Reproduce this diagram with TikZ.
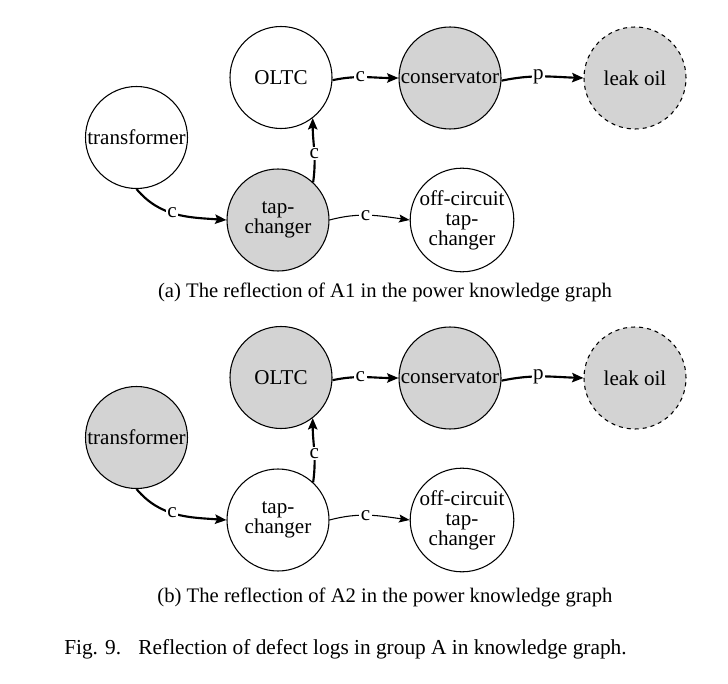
\documentclass[tikz,border=0pt]{standalone}
\usepackage{fontspec}
\setmainfont{Liberation Serif}
\usetikzlibrary{arrows.meta}
\definecolor{ngray}{HTML}{D3D3D3}
\tikzset{
  ent/.style={circle, draw, line width=0.8pt, minimum size=76.5pt, inner sep=0pt, align=center, font=\fontsize{15.8}{15}\selectfont},
  gent/.style={ent, fill=ngray},
  dent/.style={gent, dashed},
  rel/.style={line width=1.6pt, -{Stealth[length=8.5pt,width=7pt,inset=1.5pt]}},
  trel/.style={line width=0.8pt, -{Stealth[length=8pt,width=6pt,inset=1.5pt]}},
  lbl/.style={fill=white, inner sep=1.2pt, font=\fontsize{15.8}{15}\selectfont},
  captext/.style={font=\fontsize{15.5}{15}\selectfont, inner sep=0pt}
}
\begin{document}
\begin{tikzpicture}[x=0.75pt, y=-0.75pt]
\useasboundingbox (0,0) rectangle (728,684);
% (a)
\node[ent]  (trA)   at (136.5,137.5) {transformer};
\node[ent]  (oltcA) at (281,77.5) {OLTC};
\node[gent] (consA) at (450,78) {conservator};
\node[dent] (leakA) at (635,78) {leak oil};
\node[gent] (tapA)  at (278,220) {tap-\\changer};
\node[ent]  (offA)  at (462,220) {off-circuit\\tap-\\changer};
\draw[rel] (trA.-90) to[out=-50,in=176] node[lbl,pos=0.45]{c} (tapA.west);
\draw[rel] (tapA.47) to[out=82,in=-90] node[lbl,pos=0.45]{c} (oltcA.-52);
\draw[trel] (tapA.east) to[out=15,in=172] node[lbl,pos=0.45]{c} (offA.west);
\draw[rel] (oltcA.-3) to[out=12,in=180] node[lbl,pos=0.42]{c} (consA.west);
\draw[rel] (consA.-3) to[out=12,in=178] node[lbl,pos=0.45]{p} (leakA.west);
\node[captext] (capA) at (385,292) {(a) The reflection of A1 in the power knowledge graph};
% (b)
\node[gent] (trB)   at (136.5,437.5) {transformer};
\node[gent] (oltcB) at (281,377.5) {OLTC};
\node[gent] (consB) at (450,378) {conservator};
\node[dent] (leakB) at (635,378) {leak oil};
\node[ent]  (tapB)  at (278,520) {tap-\\changer};
\node[ent]  (offB)  at (462,520) {off-circuit\\tap-\\changer};
\draw[rel] (trB.-90) to[out=-50,in=176] node[lbl,pos=0.45]{c} (tapB.west);
\draw[rel] (tapB.47) to[out=82,in=-90] node[lbl,pos=0.45]{c} (oltcB.-52);
\draw[trel] (tapB.east) to[out=15,in=172] node[lbl,pos=0.45]{c} (offB.west);
\draw[rel] (oltcB.-3) to[out=12,in=180] node[lbl,pos=0.42]{c} (consB.west);
\draw[rel] (consB.-3) to[out=12,in=178] node[lbl,pos=0.45]{p} (leakB.west);
\node[captext] (capB) at (385,597) {(b) The reflection of A2 in the power knowledge graph};
% figure caption
\node[captext, anchor=west, font=\fontsize{16}{16}\selectfont] (fig) at (64,649) {Fig. 9.\hspace{13pt}Reflection of defect logs in group A in knowledge graph.};
\end{tikzpicture}
\end{document}
